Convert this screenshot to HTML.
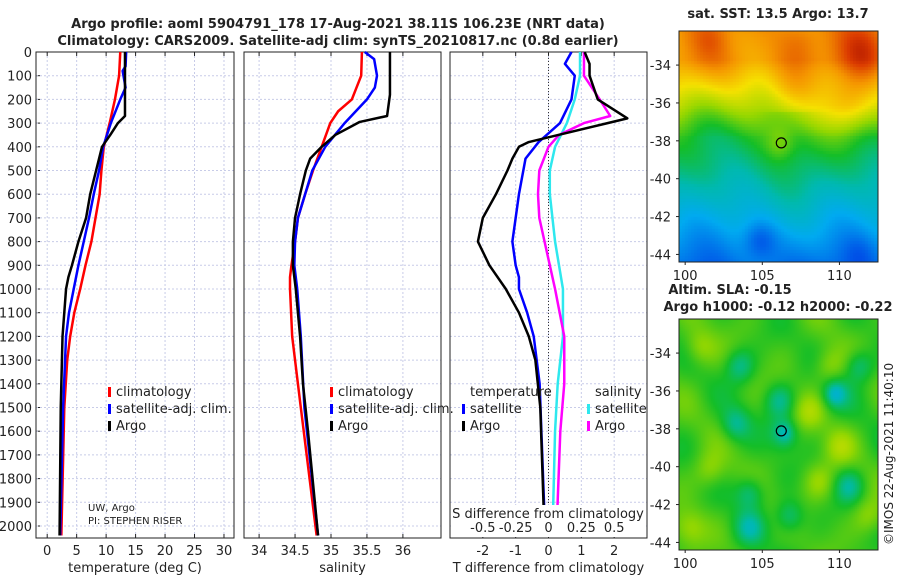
<!DOCTYPE html>
<html><head><meta charset="utf-8"><style>
body{margin:0;background:#fff;}
svg text{font-family:"DejaVu Sans","Liberation Sans",sans-serif;fill:#222;}
</style></head><body>
<svg id="s" width="900" height="580" xmlns="http://www.w3.org/2000/svg">
<text x="338" y="28" font-size="13" font-weight="bold" text-anchor="middle">Argo profile: aoml 5904791_178 17-Aug-2021 38.11S 106.23E (NRT data)</text>
<text x="338" y="45" font-size="13" font-weight="bold" text-anchor="middle">Climatology: CARS2009. Satellite-adj clim: synTS_20210817.nc (0.8d earlier)</text>
<text x="778" y="18" font-size="13" font-weight="bold" text-anchor="middle">sat. SST: 13.5 Argo: 13.7</text>
<text x="730" y="294" font-size="13" font-weight="bold" text-anchor="middle">Altim. SLA: -0.15</text>
<text x="778" y="311" font-size="13" font-weight="bold" text-anchor="middle">Argo h1000: -0.12 h2000: -0.22</text>
<text transform="translate(893,545) rotate(-90)" font-size="12">©IMOS 22-Aug-2021 11:40:10</text>
<g id="g"></g>
<foreignObject x="679" y="31" width="199" height="231"><canvas xmlns="http://www.w3.org/1999/xhtml" id="c1" width="199" height="231"></canvas></foreignObject>
<foreignObject x="679" y="319" width="199" height="231"><canvas xmlns="http://www.w3.org/1999/xhtml" id="c2" width="199" height="231"></canvas></foreignObject>
<g id="g2"></g>
</svg>
<script>
const depthTicks=[0,100,200,300,400,500,600,700,800,900,1000,1100,1200,1300,1400,1500,1600,1700,1800,1900,2000];
const tempTicks=[0,5,10,15,20,25,30];
const salTicks=[34,34.5,35,35.5,36];
const tdTicks=[-2,-1,0,1,2];
const sdTicks=[-0.5,-0.25,0,0.25,0.5];
const sdLabels=["-0.5","-0.25","0","0.25","0.5"];
// temperature profiles [depth, value]
const tArgo=[[0,13.2],[270,13.2],[300,12.0],[350,10.7],[400,9.3],[500,8.3],[600,7.3],[700,6.6],[800,5.3],[900,4.2],[950,3.6],[1000,3.2],[1200,2.6],[1500,2.3],[2040,2.1]];
const tSat=[[0,13.4],[60,13.3],[80,12.8],[150,13.3],[200,12.4],[300,10.8],[400,9.5],[500,8.8],[600,7.9],[700,7.1],[800,6.2],[900,5.3],[1000,4.5],[1100,3.7],[1200,3.2],[1500,2.7],[2040,2.2]];
const tClim=[[0,12.4],[100,12.2],[200,11.5],[300,10.6],[400,9.6],[500,9.2],[600,8.9],[700,8.2],[800,7.5],[900,6.5],[1000,5.6],[1100,4.6],[1200,3.9],[1300,3.4],[1500,2.9],[2040,2.4]];
// salinity profiles
const sArgo=[[0,35.82],[180,35.82],[270,35.78],[295,35.4],[350,35.06],[400,34.87],[450,34.71],[500,34.65],[600,34.57],[700,34.5],[800,34.47],[900,34.47],[1000,34.51],[1200,34.57],[1400,34.61],[1600,34.68],[2040,34.82]];
const sSat=[[0,35.47],[30,35.6],[100,35.64],[150,35.61],[200,35.5],[300,35.19],[400,34.92],[500,34.74],[600,34.64],[700,34.54],[800,34.5],[900,34.49],[1000,34.53],[1200,34.58],[1500,34.63],[2040,34.82]];
const sClim=[[0,35.43],[100,35.42],[200,35.29],[250,35.1],[300,34.99],[400,34.87],[500,34.75],[600,34.64],[700,34.54],[800,34.5],[900,34.45],[950,34.43],[1000,34.43],[1200,34.46],[1500,34.58],[2040,34.8]];
// differences from climatology
const dTArgo=[[0,1.1],[50,1.25],[100,1.25],[200,1.5],[280,2.4],[300,1.8],[350,0.3],[380,-0.6],[400,-0.9],[450,-1.1],[500,-1.25],[600,-1.6],[700,-2.0],[800,-2.15],[900,-1.8],[1000,-1.3],[1100,-0.9],[1200,-0.6],[1300,-0.4],[1500,-0.25],[2040,-0.12]];
const dTSat=[[0,0.7],[50,0.5],[100,0.8],[200,0.7],[300,0.35],[380,-0.3],[450,-0.7],[600,-0.9],[700,-1.0],[800,-1.1],[900,-1.0],[950,-0.9],[1000,-0.9],[1100,-0.65],[1200,-0.45],[1400,-0.27],[2040,-0.1]];
const dSArgo=[[0,0.27],[100,0.27],[200,0.39],[270,0.47],[300,0.27],[350,0.08],[400,0.0],[500,-0.07],[600,-0.08],[700,-0.07],[800,-0.03],[900,0.01],[1000,0.05],[1200,0.12],[1400,0.12],[1600,0.09],[2040,0.06]];
const dSSat=[[0,0.24],[100,0.24],[200,0.2],[300,0.14],[400,0.05],[500,0.01],[600,0.01],[800,0.05],[900,0.08],[1000,0.11],[1200,0.11],[1400,0.07],[1600,0.05],[2040,0.03]];
const latTicks=[-34,-36,-38,-40,-42,-44];
const lonTicks=[100,105,110];

const NS="http://www.w3.org/2000/svg";
const G=document.getElementById('g'),G2=document.getElementById('g2');
function el(t,a,p){const e=document.createElementNS(NS,t);for(const k in a)e.setAttribute(k,a[k]);(p||G).appendChild(e);return e;}
const y0=52,ys=0.237,yBot=538;
const Y=d=>y0+d*ys;
function panel(x0,x1,lo,hi,ticks,labels,xlabel,name,grid){
  const X=v=>x0+(v-lo)/(hi-lo)*(x1-x0);
  for(const d of depthTicks){const l=el('line',{x1:x0,x2:x1,y1:Y(d),y2:Y(d),stroke:'#c8cce8','stroke-dasharray':'2,2','stroke-width':1});
  }
  ticks.forEach((t,i)=>{if(grid){const l=el('line',{x1:X(t),x2:X(t),y1:y0,y2:yBot,stroke:'#c8cce8','stroke-dasharray':'2,2'});
   }
   el('line',{x1:X(t),x2:X(t),y1:yBot,y2:yBot-4,stroke:'#222'});el('line',{x1:X(t),x2:X(t),y1:y0,y2:y0+4,stroke:'#222'});
   const tx=el('text',{x:X(t),y:555,'font-size':13,'text-anchor':'middle'});tx.textContent=labels[i];
   });
  const r=el('rect',{x:x0,y:y0,width:x1-x0,height:yBot-y0,fill:'none',stroke:'#222'});
  
  const xl=el('text',{x:(x0+x1)/2,y:572,'font-size':13,'text-anchor':'middle'});xl.textContent=xlabel;
  
  return X;
}
function line(pts,X,col,name){const p=el('polyline',{points:pts.map(q=>X(q[1])+','+Y(q[0])).join(' '),fill:'none',stroke:col,'stroke-width':2.5,'stroke-linejoin':'round'});
  }
function txt(x,y,s,name,size,anchor){const t=el('text',{x:x,y:y,'font-size':size||13,'text-anchor':anchor||'start'});t.textContent=s;
  return t;}
function leg(x,y,col,s,name){const r=el('rect',{x:x,y:y-9,width:3,height:10,fill:col});txt(x+8,y,s,name);}

depthTicks.forEach(d=>{txt(32,Y(d)+5,String(d),'y-tick-label',13,'end');
  el('line',{x1:36,x2:40,y1:Y(d),y2:Y(d),stroke:'#222'});});

const X1=panel(36,234,-1.9,31.7,tempTicks,tempTicks.map(String),'temperature (deg C)','temperature-panel',true);
line(tClim,X1,'#f00','temp-climatology-line');line(tSat,X1,'#00f','temp-satellite-line');line(tArgo,X1,'#000','temp-argo-line');
leg(108,396,'#f00','climatology','legend-climatology');leg(108,413,'#00f','satellite-adj. clim.','legend-satellite');leg(108,430,'#000','Argo','legend-argo');
txt(88,511,'UW, Argo','institution-label',10);txt(88,524,'PI: STEPHEN RISER','pi-label',10);

const X2=panel(244,441,33.79,36.53,salTicks,salTicks.map(String),'salinity','salinity-panel',true);
line(sClim,X2,'#f00','sal-climatology-line');line(sSat,X2,'#00f','sal-satellite-line');line(sArgo,X2,'#000','sal-argo-line');
leg(330,396,'#f00','climatology','legend-climatology-2');leg(330,413,'#00f','satellite-adj. clim.','legend-satellite-2');leg(330,430,'#000','Argo','legend-argo-2');

const X3=panel(450,647,-3,3,tdTicks,tdTicks.map(String),'T difference from climatology','difference-panel',true);
const XS=v=>X3(v*4);
const z=el('line',{x1:X3(0),x2:X3(0),y1:y0,y2:yBot,stroke:'#333','stroke-dasharray':'1,2'});
line(dSSat,XS,'#2ee8ee','sdiff-satellite-line');line(dSArgo,XS,'#f0f','sdiff-argo-line');
line(dTSat,X3,'#00f','tdiff-satellite-line');line(dTArgo,X3,'#000','tdiff-argo-line');
txt(470,396,'temperature','legend-temperature-header');leg(462,413,'#00f','satellite','legend-tdiff-satellite');leg(462,430,'#000','Argo','legend-tdiff-argo');
txt(595,396,'salinity','legend-salinity-header');leg(587,413,'#2ee8ee','satellite','legend-sdiff-satellite');leg(587,430,'#f0f','Argo','legend-sdiff-argo');
const bg=el('rect',{x:451,y:505,width:195,height:32,fill:'#fff'});
txt(548,518,'S difference from climatology','s-axis-title',13,'middle');
sdTicks.forEach((t,i)=>txt(XS(t),532,sdLabels[i],'s-tick-label',13,'middle'));

// maps
const mx0=679,mx1=878,lon0=99.6,lon1=112.5;
const LX=v=>mx0+(v-lon0)/(lon1-lon0)*(mx1-mx0);
function mapAxes(top,name){const lat0=-32.2,lat1=-44.4,bot=top+231;const LY=v=>top+(v-lat0)/(lat1-lat0)*231;
  const r=el('rect',{x:mx0,y:top,width:199,height:231,fill:'none',stroke:'#222'},G2);
  latTicks.forEach(t=>{const y=LY(t);el('line',{x1:mx0-3,x2:mx0,y1:y,y2:y,stroke:'#222'},G2);
   const tx=el('text',{x:mx0-8,y:y+5,'font-size':13,'text-anchor':'end'},G2);tx.textContent=String(t);});
  lonTicks.forEach(t=>{const x=LX(t);el('line',{x1:x,x2:x,y1:bot,y2:bot+3,stroke:'#222'},G2);
   const tx=el('text',{x:x,y:bot+18,'font-size':13,'text-anchor':'middle'},G2);tx.textContent=String(t);});
  const c=el('circle',{cx:LX(106.23),cy:LY(-38.11),r:5,fill:'none',stroke:'#000','stroke-width':1.2},G2);
}
mapAxes(31,'sst-map');mapAxes(319,'sla-map');
const cmStops=[[0,[0,0,140]],[0.15,[0,70,230]],[0.3,[0,170,240]],[0.4,[0,185,175]],[0.5,[20,190,40]],[0.6,[150,215,0]],[0.7,[245,225,0]],[0.8,[245,150,0]],[0.9,[220,60,0]],[1,[150,0,0]]];
function cmap(v){v=Math.max(0,Math.min(1,v));for(let k=1;k<cmStops.length;k++){if(v<=cmStops[k][0]){const a=cmStops[k-1],b=cmStops[k],t=(v-a[0])/(b[0]-a[0]);return a[1].map((c,i)=>Math.round(c+(b[1][i]-c)*t));}}return cmStops[cmStops.length-1][1];}
function blob(u,v,cu,cv,r){const d=((u-cu)**2+(v-cv)**2)/(r*r);return Math.exp(-d);}
function draw(id,f,s){const c=document.getElementById(id),ctx=c.getContext('2d');
  for(let j=0;j<231;j+=s)for(let i=0;i<199;i+=s){const [r,g,b]=cmap(f(i/199,j/231));ctx.fillStyle=`rgb(${r},${g},${b})`;ctx.fillRect(i,j,s,s);}}
draw('c1',(u,v)=>{let w;
  if(v<0.12)w=0.8;else if(v<0.3)w=0.8-(v-0.12)*0.8;else if(v<0.45)w=0.66-(v-0.3)*0.9;else w=0.52-(v-0.45)*0.55;
  w+=0.02*Math.sin(u*9+v*4)+0.02*Math.sin(u*17-v*11);
  w+=0.1*blob(u,v,0.92,0.08,0.12)+0.05*blob(u,v,0.6,0.04,0.1)+0.04*blob(u,v,0.15,0.03,0.08);
  w+=0.06*blob(u,v,0.55,0.25,0.12)*(v<0.35?1:0)+0.1*blob(u,v,0.85,0.32,0.12);
  w+=0.07*blob(u,v,0.5,0.48,0.07)-0.1*blob(u,v,0.4,0.9,0.08)-0.04*blob(u,v,0.9,0.95,0.08);
  w-=0.06*blob(u,v,0.1,0.4,0.15);
  return w;},3);
draw('c2',(u,v)=>{let w=0.53+0.025*Math.sin(u*19+1)*Math.sin(v*17+2)+0.02*Math.sin(u*11-v*13);
  const lows=[[0.3,0.2],[0.5,0.35],[0.28,0.45],[0.52,0.49],[0.78,0.32],[0.9,0.2],[0.35,0.75],[0.55,0.85],[0.35,0.9],[0.85,0.72]];
  const highs=[[0.1,0.12],[0.65,0.4],[0.75,0.2],[0.8,0.55],[0.15,0.65],[0.7,0.7],[0.05,0.9],[0.95,0.85]];
  lows.forEach(p=>w-=0.1*blob(u,v,p[0],p[1],0.07));highs.forEach(p=>w+=0.07*blob(u,v,p[0],p[1],0.08));
  w-=0.06*blob(u,v,0.78,0.32,0.04)+0.05*blob(u,v,0.53,0.49,0.04);
  return w;},2);
</script>
</body></html>
